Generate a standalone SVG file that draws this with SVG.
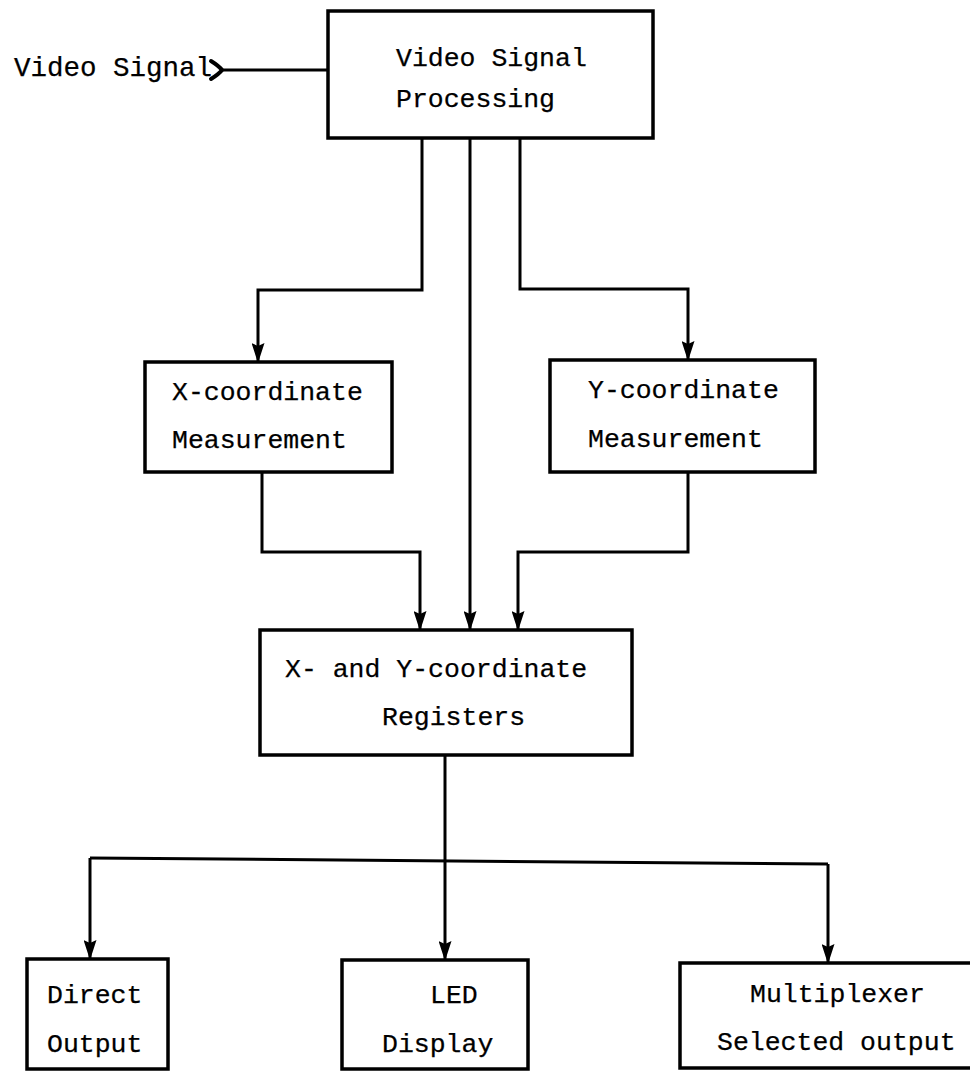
<svg xmlns="http://www.w3.org/2000/svg" width="970" height="1072" viewBox="0 0 970 1072">
  <style>
    .box { fill: #fff; stroke: #000; stroke-width: 3.5; }
    .wire { fill: none; stroke: #000; stroke-width: 3; stroke-linejoin: miter; }
    .lbl { font-family: "Liberation Mono", "Courier New", monospace; font-size: 26.5px; fill: #000; stroke: #000; stroke-width: 0.25; }
  </style>
  <defs>
    <marker id="arrow" viewBox="0 0 20 13" refX="19" refY="6.5" markerWidth="20" markerHeight="13" markerUnits="userSpaceOnUse" orient="auto">
      <path d="M0,0 L20,6.5 L0,13 L3,6.5 Z" fill="#000"/>
    </marker>
  </defs>
  <rect width="970" height="1072" fill="#fff"/>

  <!-- input label -->
  <g id="input">
    <text class="lbl" x="14" y="76" style="font-size:27.5px">Video Signal</text>
  </g>

  <g id="connectors">
    <!-- feed tail and line into the processing block -->
    <path d="M211,61 Q219,66 222,70 Q219,74 211,79" fill="none" stroke="#000" stroke-width="4" stroke-linecap="round"/>
    <path class="wire" d="M220,70 H328"/>
    <path class="wire" d="M422,138 V290 H258 V362" marker-end="url(#arrow)"/>
    <path class="wire" d="M470,138 V630" marker-end="url(#arrow)"/>
    <path class="wire" d="M520,138 V289 H688 V360" marker-end="url(#arrow)"/>
    <path class="wire" d="M262,472 V552 H420 V630" marker-end="url(#arrow)"/>
    <path class="wire" d="M688,472 V552 H518 V630" marker-end="url(#arrow)"/>
    <path class="wire" d="M445,755 V960" marker-end="url(#arrow)"/>
    <path class="wire" d="M90,858 L828,864"/>
    <path class="wire" d="M90,858 V959" marker-end="url(#arrow)"/>
    <path class="wire" d="M828,864 V963" marker-end="url(#arrow)"/>
  </g>

  <g id="video-processing">
    <rect class="box" x="328" y="11" width="325" height="127"/>
    <text class="lbl" x="396" y="66">Video Signal</text>
    <text class="lbl" x="396" y="107">Processing</text>
  </g>

  <g id="x-measurement">
    <rect class="box" x="145" y="362" width="247" height="110"/>
    <text class="lbl" x="172" y="400">X-coordinate</text>
    <text class="lbl" x="172" y="448">Measurement</text>
  </g>

  <g id="y-measurement">
    <rect class="box" x="550" y="360" width="265" height="112"/>
    <text class="lbl" x="588" y="398">Y-coordinate</text>
    <text class="lbl" x="588" y="447">Measurement</text>
  </g>

  <g id="registers">
    <rect class="box" x="260" y="630" width="372" height="125"/>
    <text class="lbl" x="285" y="677">X- and Y-coordinate</text>
    <text class="lbl" x="382" y="725">Registers</text>
  </g>

  <g id="direct-output">
    <rect class="box" x="27" y="959" width="141" height="110"/>
    <text class="lbl" x="47" y="1003">Direct</text>
    <text class="lbl" x="47" y="1052">Output</text>
  </g>

  <g id="led-display">
    <rect class="box" x="342" y="960" width="186" height="109"/>
    <text class="lbl" x="430" y="1003">LED</text>
    <text class="lbl" x="382" y="1052">Display</text>
  </g>

  <g id="multiplexer">
    <rect class="box" x="680" y="963" width="300" height="105"/>
    <text class="lbl" x="750" y="1002">Multiplexer</text>
    <text class="lbl" x="717" y="1050">Selected output</text>
  </g>
</svg>
